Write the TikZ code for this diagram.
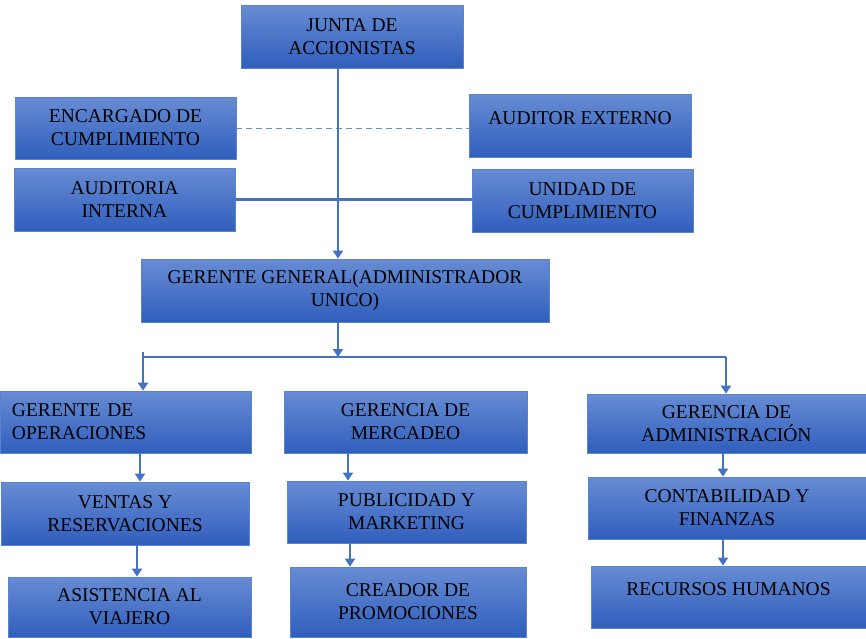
\documentclass[tikz,border=0pt]{standalone}
\usepackage{fontspec}
\setmainfont{Liberation Serif}
\usetikzlibrary{arrows.meta}
\definecolor{lineblue}{RGB}{68,114,196}
\definecolor{topblue}{RGB}{104,140,212}
\definecolor{botblue}{RGB}{47,94,188}
\definecolor{edgeblue}{RGB}{92,130,205}
\begin{document}
\begin{tikzpicture}[x=1pt,y=-1pt,
  orgbox/.style={draw=edgeblue, line width=0.8pt, top color=topblue, bottom color=botblue,
    inner sep=0pt, align=center, text=black, font=\fontsize{19.5}{23}\selectfont},
  conn/.style={draw=lineblue, line width=2.2pt},
  arr/.style={conn, -{Triangle[width=10pt,length=8pt]}},
  dash line/.style={draw=lineblue!80, line width=1pt, dash pattern=on 6pt off 4pt}]
\useasboundingbox (0,0) rectangle (866,638);
\node[orgbox, minimum width=222pt, minimum height=63pt] (junta) at (352,36.5) {JUNTA DE\\ACCIONISTAS};
\node[orgbox, minimum width=221pt, minimum height=62pt] (enc) at (125.5,128) {ENCARGADO DE\\CUMPLIMIENTO};
\node[orgbox, minimum width=221pt, minimum height=63pt] (audi) at (124.5,199.5) {AUDITORIA\\INTERNA};
\node[orgbox, minimum width=222pt, minimum height=63pt] (ext) at (580,125.5) {AUDITOR EXTERNO\\[-8pt]\mbox{}};
\node[orgbox, minimum width=221pt, minimum height=63pt] (uni) at (582.5,200.5) {UNIDAD DE\\CUMPLIMIENTO};
\node[orgbox, minimum width=408pt, minimum height=63pt] (gg) at (345,290.5) {GERENTE GENERAL(ADMINISTRADOR\\UNICO)};
\node[orgbox, align=left, text width=227pt, inner xsep=12pt, minimum height=62pt] (go) at (125.5,422) {GERENTE DE\\OPERACIONES};
\node[orgbox, minimum width=243pt, minimum height=62pt] (gm) at (405.5,422) {GERENCIA DE\\MERCADEO};
\node[orgbox, minimum width=279pt, minimum height=59pt] (ga) at (726.5,423.5) {GERENCIA DE\\ADMINISTRACIÓN};
\node[orgbox, minimum width=248pt, minimum height=63pt] (ven) at (125,513.5) {VENTAS Y\\RESERVACIONES};
\node[orgbox, minimum width=243pt, minimum height=60pt] (asi) at (129.5,607) {ASISTENCIA AL\\VIAJERO};
\node[orgbox, minimum width=239pt, minimum height=62pt] (pub) at (406.5,512) {PUBLICIDAD Y\\MARKETING};
\node[orgbox, minimum width=236pt, minimum height=70pt] (cre) at (408,602) {CREADOR DE\\PROMOCIONES};
\node[orgbox, minimum width=278pt, minimum height=62pt] (con) at (727,508) {CONTABILIDAD Y\\FINANZAS};
\node[orgbox, minimum width=275pt, minimum height=62pt] (rec) at (728.5,597) {RECURSOS HUMANOS\\[-8pt]\mbox{}};
% connectors
\coordinate (jx) at (338,0);
\coordinate (bus) at (0,357);
\coordinate (lx) at (143,352);
\coordinate (rx) at (726,0);
\draw[dash line] (enc.east) -- (enc.east -| ext.west);
\draw[conn] (audi.east) -- (audi.east -| uni.west);
\draw[arr] (jx |- junta.south) -- (jx |- gg.north);
\draw[arr] (jx |- gg.south) -- (jx |- bus);
\draw[conn] (lx |- bus) -- (rx |- bus);
\draw[arr] (lx) -- (lx |- go.north);
\draw[arr] (rx |- bus) -- (rx |- ga.north);
\coordinate (ox1) at (140,0);
\coordinate (ox2) at (137,0);
\coordinate (mx1) at (348,0);
\coordinate (mx2) at (350,0);
\coordinate (ax) at (723,0);
\draw[arr] (ox1 |- go.south) -- (ox1 |- ven.north);
\draw[arr] (ox2 |- ven.south) -- (ox2 |- asi.north);
\draw[arr] (mx1 |- gm.south) -- (mx1 |- pub.north);
\draw[arr] (mx2 |- pub.south) -- (mx2 |- cre.north);
\draw[arr] (ax |- ga.south) -- (ax |- con.north);
\draw[arr] (ax |- con.south) -- (ax |- rec.north);
\end{tikzpicture}
\end{document}
